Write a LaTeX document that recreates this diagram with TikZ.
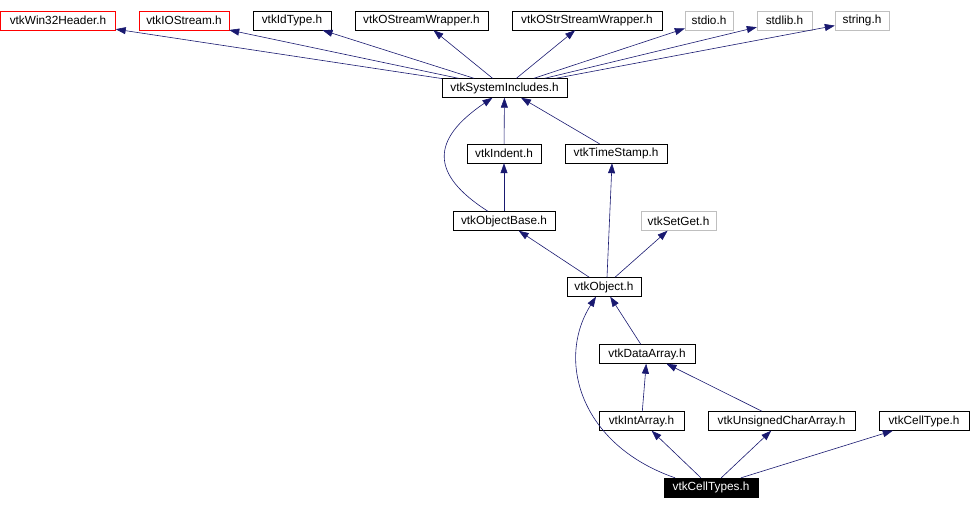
\documentclass[tikz,border=0pt]{standalone}
\usepackage{fontspec}
\setmainfont{Liberation Sans}
\usepackage{xcolor}
\usetikzlibrary{arrows.meta,positioning}

\definecolor{edgeblue}{HTML}{191970}
\definecolor{sysgray}{HTML}{BFBFBF}

\begin{document}
\begin{tikzpicture}[
  x=1pt, y=1pt,
  file/.style={rectangle, draw=black, fill=white, minimum height=19pt, inner sep=0pt, font=\fontsize{11.8}{13}\selectfont},
  missing/.style={file, draw=red},
  sysfile/.style={file, draw=sysgray},
  current/.style={file, fill=black, text=white},
  dep/.style={-{Triangle[length=10pt,width=7pt]}, edgeblue, line width=0.6pt}
]
  \useasboundingbox (0,0) rectangle (972,-509);

  % top row
  \node[missing, minimum width=115pt] (win32) at (58,-20.5) {vtkWin32Header.h};
  \node[missing, minimum width=90pt] (iostream) at (184,-20.5) {vtkIOStream.h};
  \node[file, minimum width=78pt] (idtype) at (292,-20.5) {vtkIdType.h};
  \node[file, minimum width=133pt] (ostream) at (421.5,-20.5) {vtkOStreamWrapper.h};
  \node[file, minimum width=150pt] (ostrstream) at (587,-20.5) {vtkOStrStreamWrapper.h};
  \node[sysfile, minimum width=48pt] (stdio) at (709,-20.5) {stdio.h};
  \node[sysfile, minimum width=55pt] (stdlib) at (784.5,-20.5) {stdlib.h};
  \node[sysfile, minimum width=54pt] (string) at (862,-20.5) {string.h};

  \node[file, minimum width=125pt] (sysinc) at (504.5,-88) {vtkSystemIncludes.h};
  \node[file, minimum width=74pt] (indent) at (504,-153.5) {vtkIndent.h};
  \node[file, minimum width=102pt] (timestamp) at (616,-153.5) {vtkTimeStamp.h};
  \node[file, minimum width=102pt] (objbase) at (504,-221) {vtkObjectBase.h};
  \node[sysfile, minimum width=75pt] (setget) at (678.5,-221) {vtkSetGet.h};
  \node[file, minimum width=74pt] (object) at (604,-287) {vtkObject.h};
  \node[file, minimum width=96pt] (dataarray) at (647,-354) {vtkDataArray.h};
  \node[file, minimum width=85pt] (intarray) at (641.5,-421) {vtkIntArray.h};
  \node[file, minimum width=147pt] (uchararray) at (781.5,-421) {vtkUnsignedCharArray.h};
  \node[file, minimum width=90pt] (celltype) at (924,-421) {vtkCellType.h};
  \node[current, minimum width=94pt] (celltypes) at (711,-487.5) {vtkCellTypes.h};

  % includes of vtkSystemIncludes.h
  \foreach \target in {win32,iostream,idtype,ostream,ostrstream,stdio,stdlib,string}
    \draw[dep] (sysinc) -- (\target);

  \draw[dep] (indent) -- (sysinc);
  \draw[dep] (timestamp) -- (sysinc);
  \draw[dep] ([xshift=-16pt]objbase.north) .. controls +(-58,37) and +(-62,-42) .. ([xshift=-12pt]sysinc.south);
  \draw[dep] (objbase) -- (indent);
  \draw[dep] (object) -- (objbase);
  \draw[dep] ([xshift=3pt]object.north) -- ([xshift=-4pt]timestamp.south);
  \draw[dep] (object) -- (setget);
  \draw[dep] (dataarray) -- (object);
  \draw[dep] (intarray) -- (dataarray);
  \draw[dep] (uchararray) -- (dataarray);
  \draw[dep] ([xshift=-36pt]celltypes.north) .. controls +(-95,33) and +(-40,-63) .. ([xshift=-8pt]object.south);
  \draw[dep] (celltypes) -- (intarray);
  \draw[dep] (celltypes) -- (uchararray);
  \draw[dep] ([xshift=30pt]celltypes.north) -- (celltype);
\end{tikzpicture}
\end{document}
